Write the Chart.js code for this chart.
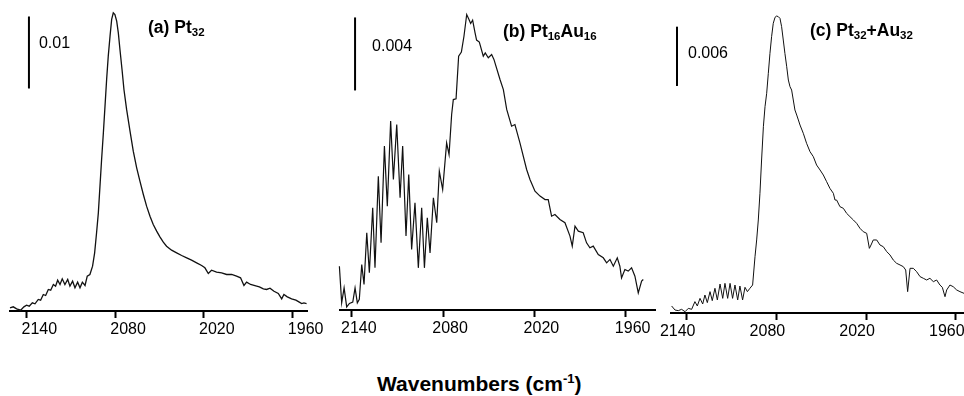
<!DOCTYPE html>
<html>
<head>
<meta charset="utf-8">
<script src="https://cdn.jsdelivr.net/npm/chart.js@4.4.0/dist/chart.umd.min.js"></script>
<style>
  html, body { margin: 0; padding: 0; background: #fff; }
  body { width: 964px; height: 396px; position: relative; overflow: hidden; }
  canvas { position: absolute; top: 0; }
  #xTitle {
    position: absolute; left: 377px; top: 373px; white-space: nowrap;
    font: bold 21px Arial, "Liberation Sans", sans-serif; line-height: 21px; color: #000;
  }
  #xTitle span { font-size: 13px; position: relative; top: -8px; }
</style>
</head>
<body>
<canvas id="panelA" width="357" height="351" style="left:-20px"></canvas>
<canvas id="panelB" width="375" height="350" style="left:310px"></canvas>
<canvas id="panelC" width="353" height="353" style="left:641px"></canvas>
<div id="xTitle">Wavenumbers (cm<span>-1</span>)</div>
<script>
// ---- data (x = wavenumber, y = absorbance above baseline)
const TICKS = [2140, 2080, 2020, 1960];

const WN_A = [2151.0,2148.8,2146.5,2143.8,2141.6,2139.8,2138.0,2135.9,2134.1,2131.9,2130.3,2128.5,2126.9,2125.1,2123.5,2121.7,2120.2,2118.8,2117.2,2115.7,2113.9,2112.0,2110.5,2108.7,2107.1,2105.3,2103.7,2102.1,2100.3,2098.8,2097.0,2095.2,2093.8,2092.5,2091.3,2090.2,2089.1,2087.9,2086.8,2085.7,2084.6,2083.4,2082.3,2081.2,2080.1,2078.9,2077.8,2076.7,2075.3,2074.0,2072.2,2069.9,2067.7,2065.4,2063.2,2060.9,2058.7,2056.4,2054.2,2051.9,2049.7,2047.4,2045.2,2041.8,2038.4,2035.0,2031.6,2028.3,2024.9,2021.5,2019.3,2017.0,2014.8,2011.4,2008.0,2004.6,2001.2,1997.9,1995.2,1992.9,1991.1,1988.4,1985.5,1982.5,1979.8,1977.6,1975.3,1972.6,1969.7,1967.4,1965.9,1963.6,1960.7,1957.8,1955.5,1953.9,1952.4,1950.6];
const ABS_A = [0.00044,0.00058,0.00030,0.00012,0.00058,0.00081,0.00067,0.00113,0.00100,0.00160,0.00150,0.00229,0.00215,0.00299,0.00289,0.00368,0.00345,0.00428,0.00368,0.00447,0.00368,0.00438,0.00345,0.00414,0.00322,0.00400,0.00322,0.00400,0.00354,0.00484,0.00507,0.00623,0.00808,0.01086,0.01363,0.01734,0.02104,0.02475,0.02845,0.03215,0.03539,0.03817,0.04049,0.04141,0.04118,0.04025,0.03863,0.03632,0.03354,0.03076,0.02799,0.02498,0.02220,0.01988,0.01803,0.01618,0.01456,0.01317,0.01201,0.01109,0.01030,0.00956,0.00900,0.00845,0.00808,0.00771,0.00738,0.00706,0.00669,0.00632,0.00600,0.00521,0.00567,0.00539,0.00530,0.00507,0.00507,0.00484,0.00461,0.00354,0.00400,0.00368,0.00354,0.00336,0.00308,0.00299,0.00317,0.00275,0.00243,0.00169,0.00229,0.00197,0.00169,0.00150,0.00123,0.00104,0.00113,0.00104];

const WN_B = [2148.2,2146.7,2145.1,2143.4,2141.6,2139.4,2137.9,2136.4,2135.1,2133.5,2132.0,2130.2,2128.5,2126.3,2124.8,2122.6,2120.8,2118.6,2116.7,2114.5,2112.7,2110.5,2108.3,2106.6,2104.4,2102.6,2100.7,2098.5,2096.3,2094.1,2092.3,2090.4,2088.6,2086.4,2084.2,2082.5,2080.3,2077.7,2076.1,2074.4,2073.3,2071.5,2069.8,2068.0,2066.3,2064.5,2063.0,2061.9,2060.6,2059.0,2058.0,2056.2,2053.6,2052.3,2050.3,2048.1,2046.6,2042.6,2040.4,2038.2,2035.0,2032.8,2029.5,2025.1,2022.9,2019.6,2016.3,2013.0,2010.9,2008.7,2006.5,2003.2,1999.9,1996.6,1995.1,1993.3,1991.1,1987.9,1985.7,1983.5,1981.3,1978.0,1974.7,1972.5,1970.3,1968.1,1965.5,1963.8,1962.7,1960.5,1958.3,1956.1,1953.9,1951.7,1949.5,1948.4];
const ABS_B = [0.00240,0.00039,0.00121,0.00017,0.00036,0.00043,0.00121,0.00039,0.00058,0.00249,0.00140,0.00423,0.00204,0.00560,0.00231,0.00733,0.00368,0.00898,0.00569,0.01035,0.00715,0.01016,0.00615,0.00898,0.00405,0.00742,0.00332,0.00587,0.00231,0.00560,0.00231,0.00505,0.00313,0.00615,0.00478,0.00761,0.00660,0.00916,0.00852,0.01071,0.01153,0.01157,0.01391,0.01413,0.01500,0.01619,0.01592,0.01570,0.01588,0.01519,0.01479,0.01468,0.01391,0.01409,0.01382,0.01400,0.01373,0.01263,0.01208,0.01099,0.01007,0.01016,0.00916,0.00770,0.00715,0.00651,0.00624,0.00605,0.00605,0.00514,0.00523,0.00496,0.00478,0.00405,0.00350,0.00459,0.00432,0.00423,0.00368,0.00341,0.00350,0.00304,0.00286,0.00258,0.00277,0.00240,0.00286,0.00240,0.00176,0.00222,0.00213,0.00231,0.00185,0.00094,0.00158,0.00167];

const WN_C = [2150.1,2147.8,2145.6,2143.4,2141.1,2138.9,2136.7,2134.5,2132.9,2131.1,2129.3,2127.8,2126.2,2124.4,2122.9,2121.1,2119.5,2117.7,2115.9,2114.4,2112.6,2111.0,2109.3,2107.7,2105.9,2104.4,2102.6,2101.0,2099.4,2097.7,2095.9,2094.3,2093.2,2092.1,2091.0,2089.9,2088.7,2087.6,2086.5,2085.4,2084.3,2083.2,2082.1,2080.9,2079.8,2078.7,2077.6,2076.5,2075.4,2074.3,2073.1,2072.0,2070.9,2069.8,2068.7,2067.6,2066.4,2065.3,2064.2,2062.0,2059.8,2057.5,2055.3,2053.1,2050.8,2048.6,2046.4,2044.2,2041.9,2040.8,2039.7,2037.5,2035.2,2033.0,2030.8,2028.5,2026.3,2024.1,2021.9,2019.6,2017.8,2016.7,2015.2,2012.9,2010.7,2008.5,2006.2,2004.0,2001.8,1999.6,1997.3,1995.1,1993.5,1992.2,1990.6,1988.4,1986.2,1983.9,1981.7,1979.5,1977.3,1975.0,1972.8,1970.6,1969.0,1967.2,1966.1,1963.9,1961.7,1959.4,1957.2,1954.5];
const ABS_C = [0.00071,0.00030,0.00024,0.00037,0.00013,0.00047,0.00037,0.00115,0.00071,0.00148,0.00091,0.00182,0.00105,0.00216,0.00125,0.00250,0.00132,0.00293,0.00148,0.00300,0.00148,0.00300,0.00148,0.00283,0.00132,0.00273,0.00132,0.00260,0.00216,0.00250,0.00283,0.00570,0.00739,0.00941,0.01211,0.01548,0.01885,0.02088,0.02223,0.02425,0.02627,0.02796,0.02931,0.02992,0.03005,0.02998,0.02981,0.02897,0.02762,0.02627,0.02492,0.02357,0.02290,0.02256,0.02155,0.02054,0.02003,0.01953,0.01902,0.01818,0.01717,0.01632,0.01582,0.01497,0.01447,0.01396,0.01329,0.01261,0.01211,0.01143,0.01143,0.01076,0.01059,0.01008,0.00975,0.00941,0.00907,0.00857,0.00823,0.00806,0.00654,0.00688,0.00739,0.00739,0.00688,0.00671,0.00621,0.00587,0.00536,0.00503,0.00486,0.00469,0.00435,0.00216,0.00452,0.00452,0.00418,0.00368,0.00351,0.00334,0.00351,0.00317,0.00334,0.00283,0.00260,0.00165,0.00233,0.00283,0.00266,0.00233,0.00216,0.00199];

// scale bars: [wavenumber, bottom, top]
const BAR_A = [2138.2, 0.0309, 0.0409];
const BAR_B = [2137.9, 0.01203, 0.01603];
const BAR_C = [2146.5, 0.02297, 0.02897];

// axis ranges [min, max] and y top (axis line is y = 0)
const XR_A = [1950.3, 2151.0], YMAX_A = 0.04319;
const XR_B = [1940.7, 2147.8], YMAX_B = 0.016986;
const XR_C = [1954.5, 2150.5], YMAX_C = 0.031669;

const FONT = 'Arial, "Liberation Sans", sans-serif';

// titles with subscripts + scale-bar label
const annotate = {
  id: "annotate",
  afterDatasetsDraw(chart, args, o) {
    const { ctx, chartArea } = chart;
    ctx.save();
    ctx.fillStyle = "#000";
    ctx.textAlign = "left";
    ctx.textBaseline = "alphabetic";
    let x = chartArea.left + o.titleX;
    o.title.forEach(([txt, sub]) => {
      ctx.font = sub ? `bold 11.5px ${FONT}` : `bold 17.5px ${FONT}`;
      ctx.fillText(txt, x, sub ? o.titleY + 3 : o.titleY);
      x += ctx.measureText(txt).width;
    });
    const top = chart.getDatasetMeta(1).data[1];
    ctx.font = `16px ${FONT}`;
    ctx.textBaseline = "middle";
    ctx.fillText(o.barLabel, top.x + o.barDx, top.y + o.barDy);
    ctx.restore();
  }
};

function makePanel(id, wn, abs, bar, xr, ymax, lineW, labelOffset, ann) {
  const ctx = document.getElementById(id).getContext("2d");
  return new Chart(ctx, {
    type: "line",
    data: {
      datasets: [
        {
          data: wn.map((x, i) => ({ x, y: abs[i] })),
          borderColor: "#111", borderWidth: lineW, pointRadius: 0, tension: 0, clip: false
        },
        {
          // scale bar
          data: [{ x: bar[0], y: bar[1] }, { x: bar[0], y: bar[2] }],
          borderColor: "#000", borderWidth: 2, pointRadius: 0, clip: false
        }
      ]
    },
    options: {
      responsive: false,
      animation: false,
      devicePixelRatio: 1,
      layout: { padding: { left: 30, right: 30, top: 0, bottom: 0 } },
      plugins: { legend: { display: false }, tooltip: { enabled: false }, annotate: ann },
      scales: {
        x: {
          type: "linear", reverse: true, min: xr[0], max: xr[1],
          afterBuildTicks: s => { s.ticks = TICKS.map(v => ({ value: v })); },
          afterFit: s => { s.height = 40; },
          border: { display: true, color: "#000", width: 2 },
          grid: { drawOnChartArea: false, drawTicks: true, tickLength: 7, tickWidth: 2, tickColor: "#000" },
          ticks: {
            color: "#000", font: { family: FONT, size: 16 }, padding: 2,
            maxRotation: 0, autoSkip: false, labelOffset,
            callback: v => String(v)
          }
        },
        y: { display: false, min: 0, max: ymax }
      }
    },
    plugins: [annotate]
  });
}

makePanel("panelA", WN_A, ABS_A, BAR_A, XR_A, YMAX_A, 1.3, 13,
  { title: [["(a) Pt", false], ["32", true]], titleX: 138, titleY: 33, barLabel: "0.01", barDx: 10, barDy: 27 });
makePanel("panelB", WN_B, ABS_B, BAR_B, XR_B, YMAX_B, 1.2, 7,
  { title: [["(b) Pt", false], ["16", true], ["Au", false], ["16", true]], titleX: 163, titleY: 37, barLabel: "0.004", barDx: 17, barDy: 29 });
makePanel("panelC", WN_C, ABS_C, BAR_C, XR_C, YMAX_C, 1.0, -9,
  { title: [["(c) Pt", false], ["32", true], ["+Au", false], ["32", true]], titleX: 139, titleY: 36, barLabel: "0.006", barDx: 11, barDy: 27 });
</script>
</body>
</html>
